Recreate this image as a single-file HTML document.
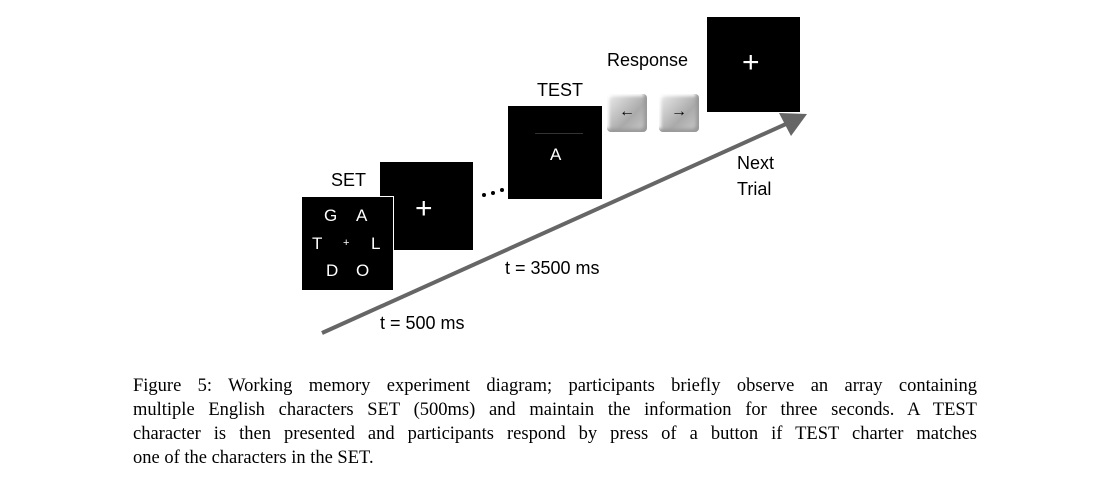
<!DOCTYPE html>
<html><head><style>
body{margin:0;width:1104px;height:498px;background:#fff;position:relative;overflow:hidden;font-family:"Liberation Sans",sans-serif}
.b{position:absolute;background:#000}
.t{position:absolute;color:#000;font-size:18px;white-space:nowrap}
.w{position:absolute;color:#fff;font-size:17px}
.key{position:absolute;width:40px;height:38px;border-radius:4px;background:linear-gradient(135deg,#eee,#aaa 60%,#ccc);box-shadow:inset -3px -3px 3px #999,inset 2px 2px 3px #fff;font-size:16px;font-weight:bold;text-align:center;line-height:36px;color:#000}
.cap{position:absolute;left:133px;width:844px;font-family:"Liberation Serif",serif;font-size:18.5px;line-height:24.5px;text-align:justify;text-align-last:justify}
.d{position:absolute;width:4px;height:4px;border-radius:2px;background:#000}
</style></head><body>
<div class="b" style="left:380px;top:162px;width:93px;height:88px"></div>
<div class="w" style="left:415px;top:192px;font-size:30px">+</div>
<div class="b" style="left:302px;top:196px;width:91px;height:93px;border-right:1px solid #fff;border-top:1px solid #fff"></div>
<div class="w" style="left:324px;top:206px">G</div>
<div class="w" style="left:356px;top:206px">A</div>
<div class="w" style="left:312px;top:234px">T</div>
<div class="w" style="left:343px;top:237px;font-size:11px">+</div>
<div class="w" style="left:371px;top:234px">L</div>
<div class="w" style="left:326px;top:261px">D</div>
<div class="w" style="left:356px;top:261px">O</div>
<div class="t" style="left:331px;top:170px">SET</div>
<div class="d" style="left:482px;top:193px"></div>
<div class="d" style="left:491px;top:191px"></div>
<div class="d" style="left:500px;top:188px"></div>
<div class="b" style="left:508px;top:106px;width:94px;height:93px"></div>
<div style="position:absolute;left:535px;top:133px;width:48px;height:1px;background:#333"></div>
<div class="w" style="left:550px;top:145px">A</div>
<div class="t" style="left:537px;top:80px">TEST</div>
<div class="key" style="left:607px;top:94px">&#8592;</div>
<div class="key" style="left:659px;top:94px">&#8594;</div>
<div class="t" style="left:607px;top:50px">Response</div>
<div class="b" style="left:707px;top:17px;width:93px;height:95px"></div>
<div class="w" style="left:742px;top:46px;font-size:30px">+</div>
<svg style="position:absolute;left:0;top:0" width="1104" height="498">
<line x1="322" y1="333" x2="786" y2="124" stroke="#666" stroke-width="4"/>
<polygon points="807,114 779,113 791,136" fill="#666"/>
</svg>
<div class="t" style="left:737px;top:153px">Next</div>
<div class="t" style="left:737px;top:179px">Trial</div>
<div class="t" style="left:505px;top:258px">t = 3500 ms</div>
<div class="t" style="left:380px;top:313px">t = 500 ms</div>
<div class="cap" style="top:374px">Figure 5: Working memory experiment diagram; participants briefly observe an array containing</div>
<div class="cap" style="top:398px">multiple English characters SET (500ms) and maintain the information for three seconds. A TEST</div>
<div class="cap" style="top:422px">character is then presented and participants respond by press of a button if TEST charter matches</div>
<div class="cap" style="top:446px;text-align-last:left">one of the characters in the SET.</div>
</body></html>
